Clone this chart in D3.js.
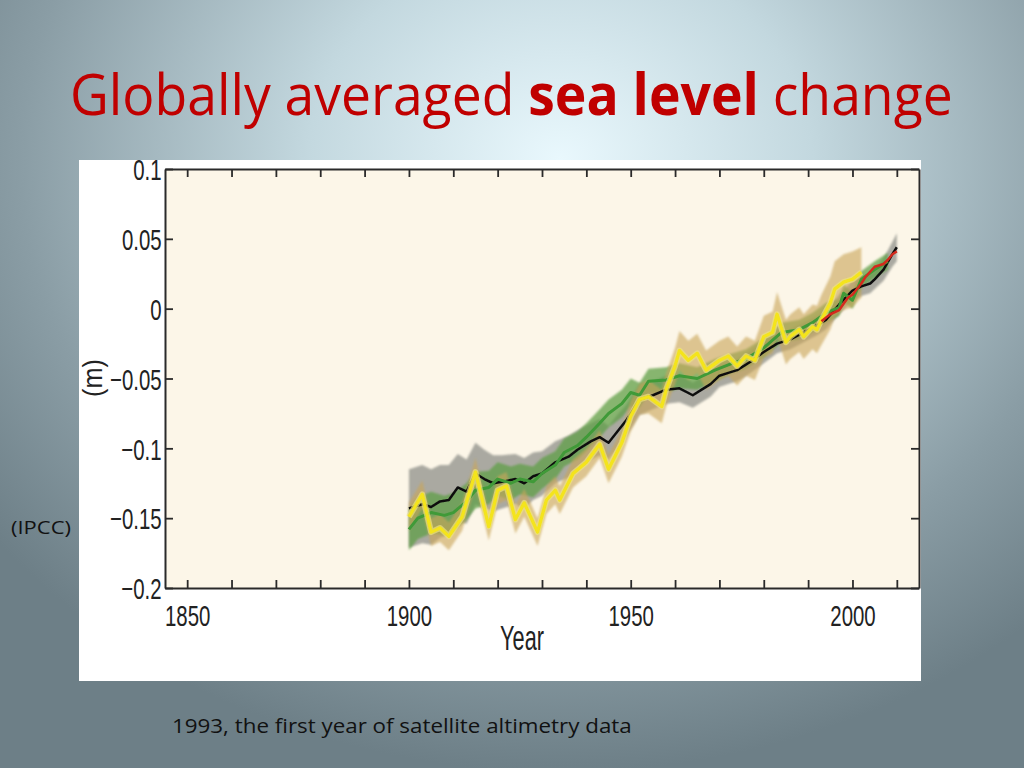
<!DOCTYPE html>
<html>
<head>
<meta charset="utf-8">
<script src="https://cdn.jsdelivr.net/npm/d3@7"></script>
<style>
html,body{margin:0;padding:0;width:1024px;height:768px;overflow:hidden;}
svg{display:block;}
</style>
</head>
<body>
<svg id="chart" width="1024" height="768"></svg>
<script>
// ---------------- DATA ----------------
const xTicks = [1850,1860,1870,1880,1890,1900,1910,1920,1930,1940,1950,1960,1970,1980,1990,2000,2010];
const xTickLabels = ["1850","1900","1950","2000"];
const yTicks = [-0.2,-0.15,-0.1,-0.05,0,0.05,0.1];
const yTickLabels = ["\u22120.2","\u22120.15","\u22120.1","\u22120.05","0","0.05","0.1"];

// black reconstruction + grey uncertainty (half width, m)
const blackYears = [1900,1903,1905,1907,1909,1911,1913,1915,1917,1919,1921,1924,1926,1928,1930,1933,1936,1938,1941,1943,1945,1947,1949,1952,1955,1958,1961,1964,1966,1968,1970,1972,1974,1977,1980,1983,1986,1989,1992,1994,1997,2000,2002,2004,2005,2007,2009,2010];
const blackValues = [-0.143,-0.140,-0.142,-0.138,-0.137,-0.128,-0.131,-0.118,-0.122,-0.125,-0.124,-0.122,-0.125,-0.120,-0.118,-0.110,-0.106,-0.101,-0.095,-0.092,-0.096,-0.088,-0.080,-0.065,-0.062,-0.058,-0.057,-0.062,-0.058,-0.054,-0.048,-0.046,-0.044,-0.038,-0.031,-0.025,-0.022,-0.017,-0.012,-0.008,0.003,0.013,0.016,0.018,0.021,0.028,0.039,0.044];
const blackUnc = [0.028,0.028,0.027,0.026,0.025,0.024,0.023,0.022,0.021,0.020,0.019,0.018,0.018,0.017,0.016,0.015,0.015,0.014,0.013,0.013,0.012,0.012,0.011,0.011,0.010,0.010,0.010,0.009,0.009,0.009,0.008,0.008,0.008,0.008,0.008,0.007,0.007,0.007,0.007,0.007,0.007,0.007,0.007,0.007,0.007,0.008,0.009,0.010];

// green reconstruction + green uncertainty
const greenYears = [1900,1902,1905,1908,1910,1913,1915,1918,1920,1923,1925,1928,1930,1933,1935,1938,1940,1943,1945,1948,1950,1952,1954,1958,1961,1965,1969,1973,1976,1980,1984,1988,1991,1994,1997,1998,2000,2002,2005,2008];
const greenValues = [-0.158,-0.150,-0.146,-0.148,-0.146,-0.138,-0.130,-0.128,-0.122,-0.125,-0.122,-0.124,-0.118,-0.112,-0.103,-0.098,-0.092,-0.082,-0.075,-0.068,-0.060,-0.062,-0.052,-0.051,-0.048,-0.050,-0.044,-0.039,-0.036,-0.028,-0.017,-0.015,-0.010,-0.003,0.001,0.011,0.006,0.021,0.028,0.034];
const greenUnc = [0.015,0.015,0.015,0.014,0.014,0.013,0.013,0.012,0.012,0.012,0.011,0.011,0.011,0.010,0.010,0.010,0.010,0.010,0.010,0.010,0.010,0.009,0.009,0.009,0.009,0.008,0.008,0.007,0.007,0.007,0.007,0.007,0.007,0.007,0.006,0.006,0.006,0.006,0.006,0.006];

// yellow reconstruction + tan uncertainty
const yellowYears = [1900,1903,1905,1907,1909,1912,1915,1918,1920,1922,1924,1926,1929,1931,1933,1934,1937,1940,1943,1945,1948,1950,1952,1954,1957,1958,1960,1961,1963,1965,1967,1970,1972,1974,1976,1978,1980,1982,1983,1985,1986,1988,1989,1991,1992,1993,1995,1996,1998,2000,2002];
const yellowValues = [-0.149,-0.133,-0.160,-0.157,-0.163,-0.149,-0.117,-0.156,-0.130,-0.127,-0.151,-0.139,-0.160,-0.137,-0.130,-0.137,-0.118,-0.110,-0.097,-0.115,-0.096,-0.077,-0.065,-0.063,-0.070,-0.058,-0.041,-0.030,-0.037,-0.032,-0.044,-0.037,-0.034,-0.041,-0.034,-0.037,-0.020,-0.017,-0.004,-0.024,-0.020,-0.015,-0.020,-0.013,-0.015,-0.008,0.004,0.014,0.019,0.021,0.026];
const yellowUnc = [0.010,0.010,0.010,0.010,0.010,0.010,0.010,0.010,0.010,0.010,0.010,0.010,0.010,0.010,0.010,0.010,0.010,0.010,0.010,0.010,0.010,0.011,0.011,0.012,0.012,0.012,0.013,0.014,0.014,0.014,0.014,0.014,0.014,0.014,0.014,0.014,0.015,0.015,0.016,0.016,0.016,0.016,0.016,0.016,0.017,0.018,0.019,0.020,0.020,0.020,0.018];

// red: satellite altimetry
const redYears = [1993,1995,1997,1999,2000,2002,2003,2005,2007,2008,2009,2010];
const redValues = [-0.009,-0.004,-0.001,0.008,0.010,0.018,0.023,0.030,0.032,0.035,0.039,0.041];

const titleParts = [["Globally averaged ", "normal"], ["sea level", "bold"], [" change", "normal"]];
const captionText = "1993, the first year of satellite altimetry data";
const sourceText = "(IPCC)";
const xLabel = "Year";
const yLabel = "(m)";

// ---------------- DRAW ----------------
const svg = d3.select("#chart");
const defs = svg.append("defs");
const bg = defs.append("radialGradient").attr("id","bg")
  .attr("gradientUnits","userSpaceOnUse")
  .attr("cx",560).attr("cy",160).attr("r",720)
  .attr("gradientTransform","translate(560,160) scale(1,0.85) translate(-560,-160)");
bg.append("stop").attr("offset","0").attr("stop-color","#e9f8fd");
bg.append("stop").attr("offset","0.35").attr("stop-color","#c3d8df");
bg.append("stop").attr("offset","0.75").attr("stop-color","#8a9da5");
bg.append("stop").attr("offset","1").attr("stop-color","#6d7f87");
defs.append("filter").attr("id","soft").attr("x","-5%").attr("y","-5%").attr("width","110%").attr("height","110%")
  .append("feGaussianBlur").attr("stdDeviation",1.2);
defs.append("filter").attr("id","softl").append("feGaussianBlur").attr("stdDeviation",0.5);

svg.append("rect").attr("width",1024).attr("height",768).attr("fill","url(#bg)");

// title
const title = svg.append("text").attr("x",70).attr("y",115)
  .attr("font-family","'Open Sans', sans-serif").attr("font-size",57).attr("fill","#c00000");
titleParts.forEach(p => title.append("tspan").attr("font-weight",p[1]).text(p[0]));
{
  const w = title.node().getComputedTextLength();
  title.attr("transform",`translate(70,0) scale(${883/w},1) translate(-70,0)`);
}

// white panel
svg.append("rect").attr("x",79).attr("y",160).attr("width",842).attr("height",521).attr("fill","#ffffff");

const x = d3.scaleLinear().domain([1845,2015]).range([165,919]);
const y = d3.scaleLinear().domain([-0.2,0.1]).range([588,169]);

svg.append("rect").attr("x",x(1845)).attr("y",y(0.1)).attr("width",x(2015)-x(1845)).attr("height",y(-0.2)-y(0.1)).attr("fill","#fcf6e8");

const plot = svg.append("g");
function band(years, vals, unc, fill, op){
  const data = years.map((yr,i)=>({yr, v:vals[i], u:unc[i]}));
  plot.append("path").datum(data)
    .attr("d", d3.area().x(d=>x(d.yr)).y0(d=>y(d.v-d.u)).y1(d=>y(d.v+d.u)))
    .attr("fill",fill).attr("fill-opacity",op).attr("filter","url(#soft)");
}
function line(years, vals, color, w, op){
  const data = years.map((yr,i)=>({yr, v:vals[i]}));
  plot.append("path").datum(data)
    .attr("d", d3.line().x(d=>x(d.yr)).y(d=>y(d.v)))
    .attr("fill","none").attr("stroke",color).attr("stroke-width",w).attr("stroke-opacity",op||1)
    .attr("stroke-linejoin","round").attr("filter","url(#softl)");
}
band(blackYears, blackValues, blackUnc, "#8f908a", 0.75);
band(greenYears, greenValues, greenUnc, "#5f9f45", 0.75);
band(yellowYears, yellowValues, yellowUnc, "#c9a65a", 0.62);
line(blackYears, blackValues, "#111111", 2.5);
line(greenYears, greenValues, "#3f9a38", 3);
line(yellowYears, yellowValues, "#eee27a", 6, 0.7);
line(yellowYears, yellowValues, "#f4e41a", 3.2);
line(redYears, redValues, "#d42a1e", 2.5);

// axes
const fontAx = "'Liberation Sans', Arial, sans-serif";
function styleAxis(g){
  g.select(".domain").attr("stroke","#2a2a2a").attr("stroke-width",2);
  g.selectAll(".tick line").attr("stroke","#2a2a2a").attr("stroke-width",1.8);
}
const gB = svg.append("g").attr("transform",`translate(0,${y(-0.2)})`)
  .call(d3.axisBottom(x).tickValues(xTicks).tickSizeInner(-8).tickSizeOuter(0).tickPadding(17)
    .tickFormat(d => xTickLabels.includes(String(d)) ? String(d) : ""));
const gT = svg.append("g").attr("transform",`translate(0,${y(0.1)})`)
  .call(d3.axisTop(x).tickValues(xTicks).tickSizeInner(-8).tickSizeOuter(0).tickFormat(""));
const gL = svg.append("g").attr("transform",`translate(${x(1845)},0)`)
  .call(d3.axisLeft(y).tickValues(yTicks).tickSizeInner(-8).tickSizeOuter(0).tickPadding(5)
    .tickFormat((d,i) => yTickLabels[i]));
const gR = svg.append("g").attr("transform",`translate(${x(2015)},0)`)
  .call(d3.axisRight(y).tickValues(yTicks).tickSizeInner(-8).tickSizeOuter(0).tickFormat(""));
[gB,gT,gL,gR].forEach(styleAxis);
[gB,gL].forEach(g => g.selectAll(".tick text")
  .attr("font-family",fontAx).attr("font-size",30).attr("fill","#222")
  .attr("transform","scale(0.68,1)"));
gL.selectAll(".tick text").attr("dy","0.36em");

svg.append("text").attr("x",0).attr("y",0)
  .attr("transform",`translate(522,650) scale(0.62,1)`)
  .attr("text-anchor","middle").attr("font-family",fontAx).attr("font-size",35).attr("fill","#222").text(xLabel);
svg.append("text")
  .attr("transform",`translate(102,378) rotate(-90) scale(0.9,1)`)
  .attr("text-anchor","middle").attr("font-family",fontAx).attr("font-size",28).attr("fill","#222").text(yLabel);

// caption + source
const cap = svg.append("text").attr("x",172).attr("y",733)
  .attr("font-family","'Open Sans', sans-serif").attr("font-size",20).attr("fill","#111").text(captionText);
{
  const w = cap.node().getComputedTextLength();
  cap.attr("transform",`translate(172,0) scale(${460/w},1) translate(-172,0)`);
}
const src = svg.append("text").attr("x",11).attr("y",534)
  .attr("font-family","'Open Sans', sans-serif").attr("font-size",18).attr("fill","#111").text(sourceText);
{
  const w = src.node().getComputedTextLength();
  src.attr("transform",`translate(11,0) scale(${60/w},1) translate(-11,0)`);
}
</script>
</body>
</html>
